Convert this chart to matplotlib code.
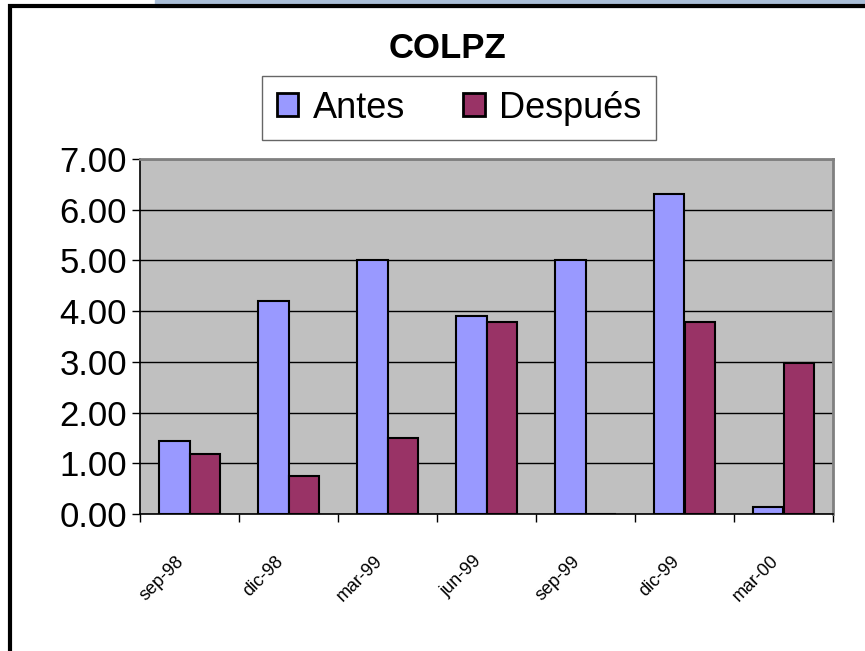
import matplotlib.pyplot as plt
import matplotlib.patches as mpatches
import matplotlib.transforms as mtransforms
import numpy as np

plt.rcParams['font.family'] = ['Liberation Sans', 'DejaVu Sans']

categories = ["sep-98", "dic-98", "mar-99", "jun-99", "sep-99", "dic-99", "mar-00"]
antes = [1.43, 4.20, 5.00, 3.90, 5.00, 6.30, 0.13]
despues = [1.18, 0.75, 1.50, 3.78, 0.00, 3.78, 2.98]

fig = plt.figure(figsize=(8.65, 6.51), dpi=100)
fig.patch.set_facecolor("white")

# blue strip at the top and the black chart frame
fig.patches.append(mpatches.Rectangle((155 / 865, 1 - 7 / 651), 1, 7 / 651,
                                      transform=fig.transFigure, color="#A9BED8", zorder=0))
fig.patches.append(mpatches.Rectangle((10 / 865, -0.01), 1, 1 - 6 / 651 + 0.01,
                                      transform=fig.transFigure, fill=False,
                                      edgecolor="black", linewidth=3, zorder=1))

ax = fig.add_axes([140 / 865, 137 / 651, 693 / 865, 355 / 651])
ax.set_facecolor("#C0C0C0")

x = np.arange(len(categories))
w = 0.31
ax.bar(x - w / 2, antes, w, color="#9999FF", edgecolor="black", linewidth=1.5,
       label="Antes", zorder=3)
ax.bar(x + w / 2, despues, w, color="#993366", edgecolor="black", linewidth=1.5,
       label="Después", zorder=3)

ax.set_xlim(-0.5, len(categories) - 0.5)
ax.set_ylim(0, 7)
ax.set_yticks(np.arange(0, 8, 1))
ax.set_yticklabels([f"{v:.2f}" for v in np.arange(0, 8, 1)], fontsize=25)
ax.yaxis.grid(True, color="black", linewidth=1, zorder=1)

ax.set_xticks(np.arange(len(categories) + 1) - 0.5)
ax.set_xticklabels([])
ax.set_xticks(x, minor=True)
ax.set_xticklabels(categories, minor=True, rotation=45, ha="right",
                   rotation_mode="anchor", fontsize=13)
ax.tick_params(axis="x", which="minor", length=0, pad=28)
ax.tick_params(axis="both", which="major", length=6, width=1, direction="out")
# nudge labels a little to the left, as in the original
offset = mtransforms.ScaledTranslation(-14 / 100, 0, fig.dpi_scale_trans)
for lbl in ax.get_xticklabels(minor=True):
    lbl.set_transform(lbl.get_transform() + offset)

for s in ["top", "right"]:
    ax.spines[s].set_color("#808080")
    ax.spines[s].set_linewidth(2)
for s in ["left", "bottom"]:
    ax.spines[s].set_color("black")
    ax.spines[s].set_linewidth(1.2)

fig.text(448 / 865, 1 - 49 / 651, "COLPZ", ha="center", va="center",
         fontsize=25, fontweight="bold")

leg = ax.legend(loc="center", bbox_to_anchor=(459 / 865, 1 - 108 / 651),
                bbox_transform=fig.transFigure, ncol=2, fontsize=26, frameon=True,
                fancybox=False, edgecolor="#404040", handlelength=0.6,
                handleheight=0.6, handletextpad=0.4, columnspacing=1.6,
                borderpad=0.4, borderaxespad=0)
leg.get_frame().set_linewidth(1)
leg._legend_box.sep = 10
for h in leg.legend_handles:
    h.set_linewidth(2)

fig.savefig("out.png", dpi=100)
